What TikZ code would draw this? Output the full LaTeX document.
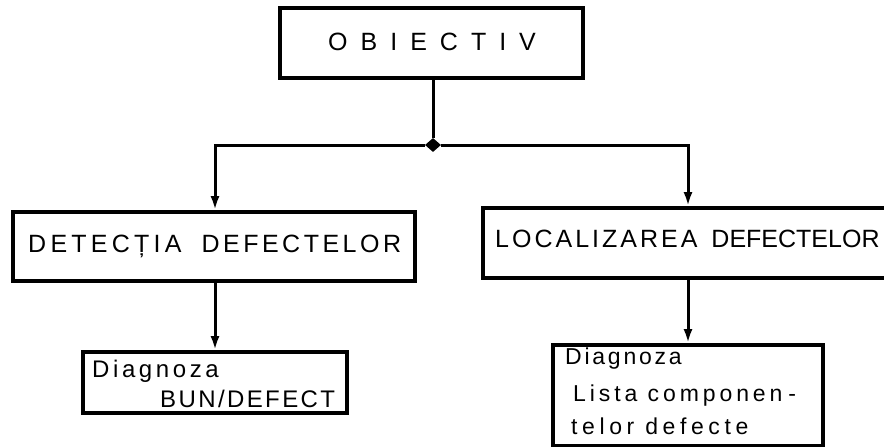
\documentclass[tikz,border=0pt]{standalone}
\usepackage{fontspec}
\setmainfont{Liberation Sans}
\newfontfamily\titlefont[LetterSpace=52]{Liberation Sans}
\newfontfamily\capsfont{Liberation Sans}
\newcommand\lsp[2]{{\addfontfeature{LetterSpace=#1}#2}}
\usetikzlibrary{arrows.meta,shapes.geometric}
\begin{document}
\begin{tikzpicture}[x=1pt,y=-1pt,
  box/.style={draw, rectangle, line width=3.8pt, inner sep=0pt},
  lab/.style={inner sep=0pt, anchor=base west},
  wire/.style={line width=3pt},
  arr/.style={wire, -{Latex[length=14pt,width=9pt]}},
  junction/.style={diamond, fill, inner sep=0pt, minimum width=16pt, minimum height=14pt}]
\useasboundingbox (0,0) rectangle (884,447);

% boxes
\node[box, minimum width=303pt, minimum height=70pt] (obj) at (431.5,43) {};
\node[box, minimum width=402pt, minimum height=69pt] (det) at (214,246.5) {};
\node[box, minimum width=420pt, minimum height=70pt] (loc) at (693,243) {};
\node[box, minimum width=264pt, minimum height=61pt] (diag1) at (215,382.5) {};
\node[box, minimum width=270pt, minimum height=101pt] (diag2) at (688,395.5) {};

% labels
\node[lab, font=\titlefont\fontsize{25}{30}\selectfont] (tobj) at (328,50) {OBIECTIV};
\node[lab, font=\capsfont\fontsize{25}{30}\selectfont] (tdet) at (28,252)
  {\lsp{17}{DETECȚIA}\hspace{20pt}\lsp{14}{DEFECTELOR}};
\node[lab, font=\capsfont\fontsize{25}{30}\selectfont] (tloc) at (495,247)
  {\lsp{12}{LOCALIZAREA}\hspace{14pt}DEFECTELOR};
\node[lab, font=\capsfont\fontsize{24}{29}\selectfont] (td1a) at (92,377) {\lsp{15}{Diagnoza}};
\node[lab, font=\capsfont\fontsize{24}{29}\selectfont] (td1b) at (160,407) {\lsp{10}{BUN/DEFECT}};
\node[lab, font=\capsfont\fontsize{23}{27}\selectfont] (td2a) at (565,364) {\lsp{12}{Diagnoza}};
\node[lab, font=\capsfont\fontsize{23}{27}\selectfont] (td2b) at (573,401) {\lsp{17}{Lista componen}\hspace{6pt}-};
\node[lab, font=\capsfont\fontsize{23}{27}\selectfont] (td2c) at (571,434) {\lsp{20}{telor defecte}};

% connectors
\node[junction] (J) at (433,145) {};
\draw[wire] (obj.south -| J) -- (J);
\draw[arr] (J) -| (det.north -| diag1.north);
\draw[arr] (J) -| (loc.north -| diag2.north);
\draw[arr] (det.south -| diag1.north) -- (diag1.north);
\draw[arr] (loc.south -| diag2.north) -- (diag2.north);
\end{tikzpicture}
\end{document}
